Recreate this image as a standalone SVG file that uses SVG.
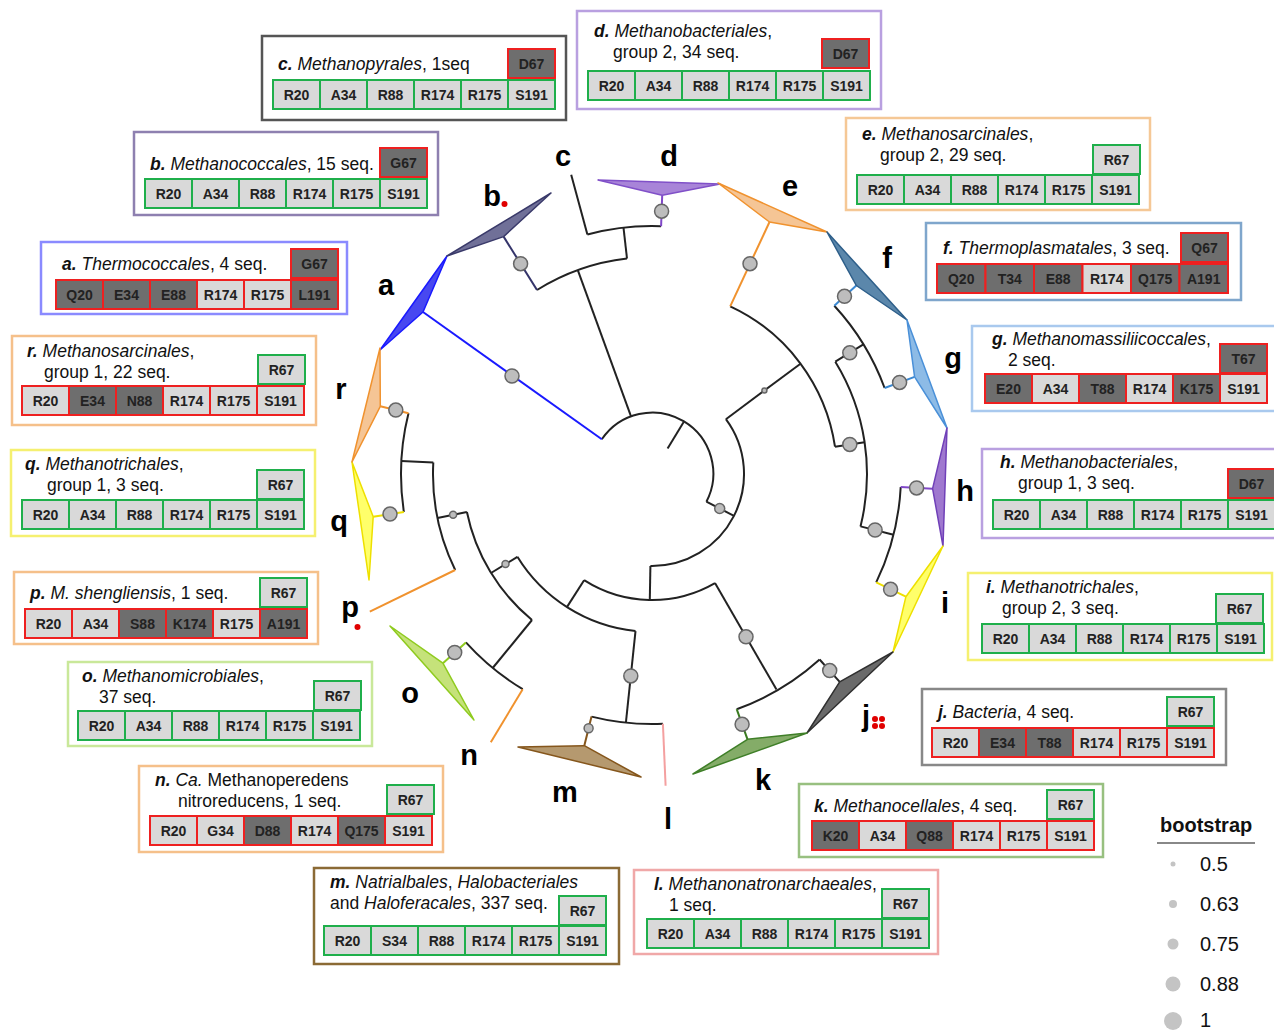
<svg xmlns="http://www.w3.org/2000/svg" width="1274" height="1033" viewBox="0 0 1274 1033">
<style>
.fr{fill:none;stroke-width:2.5}
.lg{fill:#d9d9d9;stroke:#1faf4b;stroke-width:2}
.lr{fill:#d9d9d9;stroke:#ee2020;stroke-width:2}
.dr{fill:#6e6e6e;stroke:#ee2020;stroke-width:2}
.ct{font-family:'Liberation Sans',Arial,sans-serif;font-size:14px;font-weight:bold;text-anchor:middle;fill:#222}
.tt{font-family:'Liberation Sans',Arial,sans-serif;font-size:17.5px;fill:#111}
.bi{font-weight:bold;font-style:italic}
.it{font-style:italic}
.lb{font-family:'Liberation Sans',Arial,sans-serif;font-size:29px;font-weight:bold;text-anchor:middle;fill:#000}
.br{fill:none;stroke:#222;stroke-width:2}
.cb{fill:none;stroke-width:2}
.bs{fill:#bdbdbd;stroke:#666;stroke-width:1.5}
.tri{stroke-width:1.5;stroke-linejoin:round}
.rd{fill:#e00000}
.leg{font-family:'Liberation Sans',Arial,sans-serif;font-size:20px;fill:#111}
</style>

<g id="connectors">
<path class="br" d="M601.8,439.3 A61,61 0 0 1 706.4,501.7"/>
<path class="br" d="M683.7,421.9 L667.6,448.4"/>
<path class="br" d="M631.1,416.7 L577.8,270.1"/>
<path class="br" d="M537,290 A217,217 0 0 1 627,258.5"/>
<path class="br" d="M627,258.5 L623.5,227.7"/>
<path class="br" d="M587.4,234.5 A248,248 0 0 1 661.1,226.2"/>
<path class="br" d="M587.4,234.5 L571.2,174.7"/>
<path class="br" d="M706.4,501.7 L734,515.8"/>
<path class="br" d="M725.9,419.2 A92,92 0 0 1 650.4,566"/>
<path class="br" d="M650.4,566 L649.8,600"/>
<path class="br" d="M725.9,419.2 L800.5,363.7"/>
<path class="br" d="M730.2,306.3 A185,185 0 0 1 835,446.7"/>
<path class="br" d="M835,446.7 L864.6,442.2"/>
<path class="br" d="M835.3,361.7 A215,215 0 0 1 860.5,526.4"/>
<path class="br" d="M835.3,361.7 L863.4,344.4"/>
<path class="br" d="M860.5,526.4 L893.5,534.7"/>
<path class="br" d="M834.3,305.8 A248,248 0 0 1 884.6,388"/>
<path class="br" d="M900.7,487 A249,249 0 0 1 876.2,582.4"/>
<path class="br" d="M715,583.1 A126,126 0 0 1 584.1,580.2"/>
<path class="br" d="M715,583.1 L776.5,689.6"/>
<path class="br" d="M584.1,580.2 L566.9,607.1"/>
<path class="br" d="M819.6,659.5 A250,250 0 0 1 736.7,709.2"/>
<path class="br" d="M819.6,659.5 L839.7,681.8"/>
<path class="br" d="M635.5,631.1 A158,158 0 0 1 517.4,556.8"/>
<path class="br" d="M635.5,631.1 L625.9,722.6"/>
<path class="br" d="M517.4,556.8 L491,573"/>
<path class="br" d="M662.9,723.8 A250,250 0 0 1 591.5,716.6"/>
<path class="br" d="M532,620 A189,189 0 0 1 466.9,512"/>
<path class="br" d="M532,620 L492.7,668"/>
<path class="br" d="M466.9,512 L437.5,518"/>
<path class="br" d="M522.7,689.2 A251,251 0 0 1 465.9,642.4"/>
<path class="br" d="M455.2,570 A219,219 0 0 1 433.3,462.5"/>
<path class="br" d="M433.3,462.5 L401.3,460.9"/>
<path class="br" d="M403.9,512 A251,251 0 0 1 408.5,413.3"/>
<path class="cb" stroke="#1a1aff" d="M601.8,439.3 L423,312"/>
<path class="cb" stroke="#34346a" d="M537,290 L503.6,236.6"/>
<path class="cb" stroke="#8048c8" d="M661.1,226.2 L662.2,195.2"/>
<path class="cb" stroke="#f0922e" d="M730.2,306.3 L769.5,222"/>
<path class="cb" stroke="#3a88d2" d="M834.3,305.8 L856.3,285.5"/>
<path class="cb" stroke="#3a88d2" d="M884.6,388 L914.6,376.9"/>
<path class="cb" stroke="#8048c8" d="M900.7,487 L932.6,488.7"/>
<path class="cb" stroke="#eee000" d="M876.2,582.4 L905.9,596.7"/>
<path class="cb" stroke="#3a7a20" d="M736.7,709.2 L747.5,739.3"/>
<path class="cb" stroke="#f4a0a0" d="M662.9,723.8 L665.6,785.7"/>
<path class="cb" stroke="#85561c" d="M591.5,716.6 L584.3,745.7"/>
<path class="cb" stroke="#f0922e" d="M522.7,689.2 L490.8,742.3"/>
<path class="cb" stroke="#8fcb1f" d="M465.9,642.4 L442.9,663.2"/>
<path class="cb" stroke="#f0922e" d="M455.2,570 L369.8,611.7"/>
<path class="cb" stroke="#eee000" d="M403.9,512 L373.2,516.7"/>
<path class="cb" stroke="#f0922e" d="M408.5,413.3 L380.3,406.3"/>
<g id="bootstraps">
<circle class="bs" cx="512" cy="376" r="7"/>
<circle class="bs" cx="520.6" cy="263.7" r="7"/>
<circle class="bs" cx="661.6" cy="211.2" r="7"/>
<circle class="bs" cx="750" cy="263.7" r="7"/>
<circle class="bs" cx="849.8" cy="444.4" r="7"/>
<circle class="bs" cx="849.8" cy="352.8" r="7"/>
<circle class="bs" cx="844.5" cy="296.3" r="7"/>
<circle class="bs" cx="899.6" cy="382.4" r="7"/>
<circle class="bs" cx="875.1" cy="530" r="7"/>
<circle class="bs" cx="916.6" cy="487.9" r="7"/>
<circle class="bs" cx="890.6" cy="589.3" r="7"/>
<circle class="bs" cx="746" cy="636.8" r="7"/>
<circle class="bs" cx="829.7" cy="670.6" r="7"/>
<circle class="bs" cx="742.1" cy="724.3" r="7"/>
<circle class="bs" cx="630.8" cy="675.9" r="7"/>
<circle class="bs" cx="454.7" cy="652.5" r="7"/>
<circle class="bs" cx="390" cy="514.1" r="7"/>
<circle class="bs" cx="395.8" cy="410.1" r="7"/>
<circle class="bs" cx="719.7" cy="508.5" r="5"/>
<circle class="bs" cx="764.4" cy="390.6" r="2.5"/>
<circle class="bs" cx="505.5" cy="564.1" r="3.5"/>
<circle class="bs" cx="453.1" cy="514.8" r="3.5"/>
<circle class="bs" cx="588.6" cy="728.2" r="4.5"/>
</g>
</g>

<g id="node-a">
<polygon class="tri" fill="#4848f0" stroke="#1a1aff" points="423,312 447,256 380,350"/>
<text class="lb" x="386" y="295">a</text>
<g transform="translate(56,280)">
<rect class="fr" stroke="#8a8aff" x="-15" y="-38" width="306" height="72"/>
<text class="tt" x="6" y="-10"><tspan class="bi">a.</tspan> <tspan class="it">Thermococcales</tspan>, 4 seq.</text>
<rect class="dr" x="235" y="-31" width="47" height="29"/><text class="ct" x="258.5" y="-11">G67</text>
<rect class="dr" x="0" y="0" width="47" height="29"/><text class="ct" x="23.5" y="20">Q20</text>
<rect class="dr" x="47" y="0" width="47" height="29"/><text class="ct" x="70.5" y="20">E34</text>
<rect class="dr" x="94" y="0" width="47" height="29"/><text class="ct" x="117.5" y="20">E88</text>
<rect class="lr" x="141" y="0" width="47" height="29"/><text class="ct" x="164.5" y="20">R174</text>
<rect class="lr" x="188" y="0" width="47" height="29"/><text class="ct" x="211.5" y="20">R175</text>
<rect class="dr" x="235" y="0" width="47" height="29"/><text class="ct" x="258.5" y="20">L191</text>
</g>
</g>

<g id="node-b">
<polygon class="tri" fill="#707098" stroke="#3a3a6a" points="503.6,236.6 551,193 447,256"/>
<text class="lb" x="492" y="206">b</text>
<circle class="rd" cx="504.5" cy="204" r="3"/>
<g transform="translate(145,179)">
<rect class="fr" stroke="#8e80b0" x="-11" y="-47" width="304" height="83"/>
<text class="tt" x="5" y="-9"><tspan class="bi">b.</tspan> <tspan class="it">Methanococcales</tspan>, 15 seq.</text>
<rect class="dr" x="235" y="-31" width="47" height="29"/><text class="ct" x="258.5" y="-11">G67</text>
<rect class="lg" x="0" y="0" width="47" height="29"/><text class="ct" x="23.5" y="20">R20</text>
<rect class="lg" x="47" y="0" width="47" height="29"/><text class="ct" x="70.5" y="20">A34</text>
<rect class="lg" x="94" y="0" width="47" height="29"/><text class="ct" x="117.5" y="20">R88</text>
<rect class="lg" x="141" y="0" width="47" height="29"/><text class="ct" x="164.5" y="20">R174</text>
<rect class="lg" x="188" y="0" width="47" height="29"/><text class="ct" x="211.5" y="20">R175</text>
<rect class="lg" x="235" y="0" width="47" height="29"/><text class="ct" x="258.5" y="20">S191</text>
</g>
</g>

<g id="node-c">
<text class="lb" x="563" y="166">c</text>
<g transform="translate(273,80)">
<rect class="fr" stroke="#555" x="-11" y="-44" width="304" height="84"/>
<text class="tt" x="5" y="-10"><tspan class="bi">c.</tspan> <tspan class="it">Methanopyrales</tspan>, 1seq</text>
<rect class="dr" x="235" y="-31" width="47" height="29"/><text class="ct" x="258.5" y="-11">D67</text>
<rect class="lg" x="0" y="0" width="47" height="29"/><text class="ct" x="23.5" y="20">R20</text>
<rect class="lg" x="47" y="0" width="47" height="29"/><text class="ct" x="70.5" y="20">A34</text>
<rect class="lg" x="94" y="0" width="47" height="29"/><text class="ct" x="117.5" y="20">R88</text>
<rect class="lg" x="141" y="0" width="47" height="29"/><text class="ct" x="164.5" y="20">R174</text>
<rect class="lg" x="188" y="0" width="47" height="29"/><text class="ct" x="211.5" y="20">R175</text>
<rect class="lg" x="235" y="0" width="47" height="29"/><text class="ct" x="258.5" y="20">S191</text>
</g>
</g>

<g id="node-d">
<polygon class="tri" fill="#a884d8" stroke="#8050c8" points="662.2,195.2 598,180 720,184"/>
<text class="lb" x="669" y="166">d</text>
<g transform="translate(588,71)">
<rect class="fr" stroke="#b9a0e0" x="-11" y="-60" width="304" height="98"/>
<text class="tt" x="6" y="-34"><tspan class="bi">d.</tspan> <tspan class="it">Methanobacteriales</tspan>,</text>
<text class="tt" x="25" y="-13">group 2, 34 seq.</text>
<rect class="dr" x="234" y="-32" width="47" height="29"/><text class="ct" x="257.5" y="-12">D67</text>
<rect class="lg" x="0" y="0" width="47" height="29"/><text class="ct" x="23.5" y="20">R20</text>
<rect class="lg" x="47" y="0" width="47" height="29"/><text class="ct" x="70.5" y="20">A34</text>
<rect class="lg" x="94" y="0" width="47" height="29"/><text class="ct" x="117.5" y="20">R88</text>
<rect class="lg" x="141" y="0" width="47" height="29"/><text class="ct" x="164.5" y="20">R174</text>
<rect class="lg" x="188" y="0" width="47" height="29"/><text class="ct" x="211.5" y="20">R175</text>
<rect class="lg" x="235" y="0" width="47" height="29"/><text class="ct" x="258.5" y="20">S191</text>
</g>
</g>

<g id="node-e">
<polygon class="tri" fill="#f5c595" stroke="#f0922e" points="769.5,222 718,183 827,232"/>
<text class="lb" x="790" y="196">e</text>
<g transform="translate(857,175)">
<rect class="fr" stroke="#f5c896" x="-11" y="-57" width="304" height="92"/>
<text class="tt" x="5" y="-35"><tspan class="bi">e.</tspan> <tspan class="it">Methanosarcinales</tspan>,</text>
<text class="tt" x="23" y="-14">group 2, 29 seq.</text>
<rect class="lg" x="236" y="-30" width="47" height="29"/><text class="ct" x="259.5" y="-10">R67</text>
<rect class="lg" x="0" y="0" width="47" height="29"/><text class="ct" x="23.5" y="20">R20</text>
<rect class="lg" x="47" y="0" width="47" height="29"/><text class="ct" x="70.5" y="20">A34</text>
<rect class="lg" x="94" y="0" width="47" height="29"/><text class="ct" x="117.5" y="20">R88</text>
<rect class="lg" x="141" y="0" width="47" height="29"/><text class="ct" x="164.5" y="20">R174</text>
<rect class="lg" x="188" y="0" width="47" height="29"/><text class="ct" x="211.5" y="20">R175</text>
<rect class="lg" x="235" y="0" width="47" height="29"/><text class="ct" x="258.5" y="20">S191</text>
</g>
</g>

<g id="node-f">
<polygon class="tri" fill="#5b87ab" stroke="#2e5f8a" points="856.3,285.5 827,232 907,320"/>
<text class="lb" x="887" y="268">f</text>
<g transform="translate(937,264)">
<rect class="fr" stroke="#7fa6cc" x="-11" y="-41" width="315" height="77"/>
<text class="tt" x="6" y="-10"><tspan class="bi">f.</tspan> <tspan class="it">Thermoplasmatales</tspan>, 3 seq.</text>
<rect class="dr" x="244" y="-31" width="47" height="29"/><text class="ct" x="267.5" y="-11">Q67</text>
<rect class="dr" x="0" y="0" width="48.5" height="29"/><text class="ct" x="24.2" y="20">Q20</text>
<rect class="dr" x="48.5" y="0" width="48.5" height="29"/><text class="ct" x="72.7" y="20">T34</text>
<rect class="dr" x="97" y="0" width="48.5" height="29"/><text class="ct" x="121.2" y="20">E88</text>
<rect class="lr" x="145.5" y="0" width="48.5" height="29"/><text class="ct" x="169.7" y="20">R174</text>
<rect class="dr" x="194" y="0" width="48.5" height="29"/><text class="ct" x="218.2" y="20">Q175</text>
<rect class="dr" x="242.5" y="0" width="48.5" height="29"/><text class="ct" x="266.7" y="20">A191</text>
</g>
</g>

<g id="node-g">
<polygon class="tri" fill="#8dbbe6" stroke="#4a90d8" points="914.6,376.9 907,320 947,428"/>
<text class="lb" x="953" y="368">g</text>
<g transform="translate(985,374)">
<rect class="fr" stroke="#a9c9ee" x="-13" y="-48" width="304" height="85"/>
<text class="tt" x="7" y="-29"><tspan class="bi">g.</tspan> <tspan class="it">Methanomassiliicoccales</tspan>,</text>
<text class="tt" x="23" y="-8">2 seq.</text>
<rect class="dr" x="235" y="-30" width="47" height="29"/><text class="ct" x="258.5" y="-10">T67</text>
<rect class="dr" x="0" y="0" width="47" height="29"/><text class="ct" x="23.5" y="20">E20</text>
<rect class="lr" x="47" y="0" width="47" height="29"/><text class="ct" x="70.5" y="20">A34</text>
<rect class="dr" x="94" y="0" width="47" height="29"/><text class="ct" x="117.5" y="20">T88</text>
<rect class="lr" x="141" y="0" width="47" height="29"/><text class="ct" x="164.5" y="20">R174</text>
<rect class="dr" x="188" y="0" width="47" height="29"/><text class="ct" x="211.5" y="20">K175</text>
<rect class="lr" x="235" y="0" width="47" height="29"/><text class="ct" x="258.5" y="20">S191</text>
</g>
</g>

<g id="node-h">
<polygon class="tri" fill="#9f78cf" stroke="#7040b8" points="932.6,488.7 947,428 943,546"/>
<text class="lb" x="965" y="501">h</text>
<g transform="translate(993,500)">
<rect class="fr" stroke="#b9a0e0" x="-11" y="-51" width="304" height="89"/>
<text class="tt" x="7" y="-32"><tspan class="bi">h.</tspan> <tspan class="it">Methanobacteriales</tspan>,</text>
<text class="tt" x="25" y="-11">group 1, 3 seq.</text>
<rect class="dr" x="235" y="-31" width="47" height="29"/><text class="ct" x="258.5" y="-11">D67</text>
<rect class="lg" x="0" y="0" width="47" height="29"/><text class="ct" x="23.5" y="20">R20</text>
<rect class="lg" x="47" y="0" width="47" height="29"/><text class="ct" x="70.5" y="20">A34</text>
<rect class="lg" x="94" y="0" width="47" height="29"/><text class="ct" x="117.5" y="20">R88</text>
<rect class="lg" x="141" y="0" width="47" height="29"/><text class="ct" x="164.5" y="20">R174</text>
<rect class="lg" x="188" y="0" width="47" height="29"/><text class="ct" x="211.5" y="20">R175</text>
<rect class="lg" x="235" y="0" width="47" height="29"/><text class="ct" x="258.5" y="20">S191</text>
</g>
</g>

<g id="node-i">
<polygon class="tri" fill="#ffff6a" stroke="#eee000" points="905.9,596.7 943,546 893,652"/>
<text class="lb" x="945" y="613">i</text>
<g transform="translate(982,624)">
<rect class="fr" stroke="#f5f070" x="-14" y="-51" width="304" height="87"/>
<text class="tt" x="4" y="-31"><tspan class="bi">i.</tspan> <tspan class="it">Methanotrichales</tspan>,</text>
<text class="tt" x="20" y="-10">group 2, 3 seq.</text>
<rect class="lg" x="234" y="-30" width="47" height="29"/><text class="ct" x="257.5" y="-10">R67</text>
<rect class="lg" x="0" y="0" width="47" height="29"/><text class="ct" x="23.5" y="20">R20</text>
<rect class="lg" x="47" y="0" width="47" height="29"/><text class="ct" x="70.5" y="20">A34</text>
<rect class="lg" x="94" y="0" width="47" height="29"/><text class="ct" x="117.5" y="20">R88</text>
<rect class="lg" x="141" y="0" width="47" height="29"/><text class="ct" x="164.5" y="20">R174</text>
<rect class="lg" x="188" y="0" width="47" height="29"/><text class="ct" x="211.5" y="20">R175</text>
<rect class="lg" x="235" y="0" width="47" height="29"/><text class="ct" x="258.5" y="20">S191</text>
</g>
</g>

<g id="node-j">
<polygon class="tri" fill="#6a6a6a" stroke="#303030" points="839.7,681.8 893,652 807,733"/>
<text class="lb" x="866" y="726">j</text>
<circle class="rd" cx="875" cy="719" r="3"/><circle class="rd" cx="882" cy="719" r="3"/>
<circle class="rd" cx="875" cy="726" r="3"/><circle class="rd" cx="882" cy="726" r="3"/>
<g transform="translate(932,728)">
<rect class="fr" stroke="#888" x="-10" y="-39" width="304" height="76"/>
<text class="tt" x="6" y="-10"><tspan class="bi">j.</tspan> <tspan class="it">Bacteria</tspan>, 4 seq.</text>
<rect class="lg" x="235" y="-31" width="47" height="29"/><text class="ct" x="258.5" y="-11">R67</text>
<rect class="lr" x="0" y="0" width="47" height="29"/><text class="ct" x="23.5" y="20">R20</text>
<rect class="dr" x="47" y="0" width="47" height="29"/><text class="ct" x="70.5" y="20">E34</text>
<rect class="dr" x="94" y="0" width="47" height="29"/><text class="ct" x="117.5" y="20">T88</text>
<rect class="lr" x="141" y="0" width="47" height="29"/><text class="ct" x="164.5" y="20">R174</text>
<rect class="lr" x="188" y="0" width="47" height="29"/><text class="ct" x="211.5" y="20">R175</text>
<rect class="lr" x="235" y="0" width="47" height="29"/><text class="ct" x="258.5" y="20">S191</text>
</g>
</g>

<g id="node-k">
<polygon class="tri" fill="#84ac68" stroke="#3f7f28" points="747.5,739.3 807,733 693,774"/>
<text class="lb" x="763" y="790">k</text>
<g transform="translate(812,821)">
<rect class="fr" stroke="#98c080" x="-13" y="-37" width="304" height="73"/>
<text class="tt" x="2" y="-9"><tspan class="bi">k.</tspan> <tspan class="it">Methanocellales</tspan>, 4 seq.</text>
<rect class="lg" x="235" y="-31" width="47" height="29"/><text class="ct" x="258.5" y="-11">R67</text>
<rect class="dr" x="0" y="0" width="47" height="29"/><text class="ct" x="23.5" y="20">K20</text>
<rect class="lr" x="47" y="0" width="47" height="29"/><text class="ct" x="70.5" y="20">A34</text>
<rect class="dr" x="94" y="0" width="47" height="29"/><text class="ct" x="117.5" y="20">Q88</text>
<rect class="lr" x="141" y="0" width="47" height="29"/><text class="ct" x="164.5" y="20">R174</text>
<rect class="lr" x="188" y="0" width="47" height="29"/><text class="ct" x="211.5" y="20">R175</text>
<rect class="lr" x="235" y="0" width="47" height="29"/><text class="ct" x="258.5" y="20">S191</text>
</g>
</g>

<g id="node-l">
<text class="lb" x="668" y="829">l</text>
<g transform="translate(647,919)">
<rect class="fr" stroke="#f0a8a8" x="-13" y="-49" width="304" height="84"/>
<text class="tt" x="7" y="-29"><tspan class="bi">l.</tspan> <tspan class="it">Methanonatronarchaeales</tspan>,</text>
<text class="tt" x="22" y="-8">1 seq.</text>
<rect class="lg" x="235" y="-30" width="47" height="29"/><text class="ct" x="258.5" y="-10">R67</text>
<rect class="lg" x="0" y="0" width="47" height="29"/><text class="ct" x="23.5" y="20">R20</text>
<rect class="lg" x="47" y="0" width="47" height="29"/><text class="ct" x="70.5" y="20">A34</text>
<rect class="lg" x="94" y="0" width="47" height="29"/><text class="ct" x="117.5" y="20">R88</text>
<rect class="lg" x="141" y="0" width="47" height="29"/><text class="ct" x="164.5" y="20">R174</text>
<rect class="lg" x="188" y="0" width="47" height="29"/><text class="ct" x="211.5" y="20">R175</text>
<rect class="lg" x="235" y="0" width="47" height="29"/><text class="ct" x="258.5" y="20">S191</text>
</g>
</g>

<g id="node-m">
<polygon class="tri" fill="#b5996f" stroke="#85561c" points="584.3,745.7 518,747 641,777"/>
<text class="lb" x="565" y="802">m</text>
<g transform="translate(324,926)">
<rect class="fr" stroke="#8b6a35" x="-10" y="-58" width="305" height="96"/>
<text class="tt" x="6" y="-38"><tspan class="bi">m.</tspan> <tspan class="it">Natrialbales</tspan>, <tspan class="it">Halobacteriales</tspan></text>
<text class="tt" x="6" y="-17">and <tspan class="it">Haloferacales</tspan>, 337 seq.</text>
<rect class="lg" x="235" y="-30" width="47" height="29"/><text class="ct" x="258.5" y="-10">R67</text>
<rect class="lg" x="0" y="0" width="47" height="29"/><text class="ct" x="23.5" y="20">R20</text>
<rect class="lg" x="47" y="0" width="47" height="29"/><text class="ct" x="70.5" y="20">S34</text>
<rect class="lg" x="94" y="0" width="47" height="29"/><text class="ct" x="117.5" y="20">R88</text>
<rect class="lg" x="141" y="0" width="47" height="29"/><text class="ct" x="164.5" y="20">R174</text>
<rect class="lg" x="188" y="0" width="47" height="29"/><text class="ct" x="211.5" y="20">R175</text>
<rect class="lg" x="235" y="0" width="47" height="29"/><text class="ct" x="258.5" y="20">S191</text>
</g>
</g>

<g id="node-n">
<text class="lb" x="469" y="765">n</text>
<g transform="translate(150,816)">
<rect class="fr" stroke="#f5c08a" x="-11" y="-50" width="304" height="86"/>
<text class="tt" x="5" y="-30"><tspan class="bi">n.</tspan> <tspan class="it">Ca.</tspan> Methanoperedens</text>
<text class="tt" x="28" y="-9">nitroreducens, 1 seq.</text>
<rect class="lg" x="237" y="-31" width="47" height="29"/><text class="ct" x="260.5" y="-11">R67</text>
<rect class="lr" x="0" y="0" width="47" height="29"/><text class="ct" x="23.5" y="20">R20</text>
<rect class="lr" x="47" y="0" width="47" height="29"/><text class="ct" x="70.5" y="20">G34</text>
<rect class="dr" x="94" y="0" width="47" height="29"/><text class="ct" x="117.5" y="20">D88</text>
<rect class="lr" x="141" y="0" width="47" height="29"/><text class="ct" x="164.5" y="20">R174</text>
<rect class="dr" x="188" y="0" width="47" height="29"/><text class="ct" x="211.5" y="20">Q175</text>
<rect class="lr" x="235" y="0" width="47" height="29"/><text class="ct" x="258.5" y="20">S191</text>
</g>
</g>

<g id="node-o">
<polygon class="tri" fill="#c5e27a" stroke="#8fcb1f" points="442.9,663.2 390,626 474,720"/>
<text class="lb" x="410" y="703">o</text>
<g transform="translate(78,711)">
<rect class="fr" stroke="#c9e89a" x="-10" y="-49" width="304" height="84"/>
<text class="tt" x="4" y="-29"><tspan class="bi">o.</tspan> <tspan class="it">Methanomicrobiales</tspan>,</text>
<text class="tt" x="21" y="-8">37 seq.</text>
<rect class="lg" x="236" y="-30" width="47" height="29"/><text class="ct" x="259.5" y="-10">R67</text>
<rect class="lg" x="0" y="0" width="47" height="29"/><text class="ct" x="23.5" y="20">R20</text>
<rect class="lg" x="47" y="0" width="47" height="29"/><text class="ct" x="70.5" y="20">A34</text>
<rect class="lg" x="94" y="0" width="47" height="29"/><text class="ct" x="117.5" y="20">R88</text>
<rect class="lg" x="141" y="0" width="47" height="29"/><text class="ct" x="164.5" y="20">R174</text>
<rect class="lg" x="188" y="0" width="47" height="29"/><text class="ct" x="211.5" y="20">R175</text>
<rect class="lg" x="235" y="0" width="47" height="29"/><text class="ct" x="258.5" y="20">S191</text>
</g>
</g>

<g id="node-p">
<text class="lb" x="350" y="617">p</text>
<circle class="rd" cx="357.5" cy="627" r="3"/>
<g transform="translate(25,609)">
<rect class="fr" stroke="#f5c08a" x="-11" y="-37" width="304" height="72"/>
<text class="tt" x="5" y="-10"><tspan class="bi">p.</tspan> <tspan class="it">M. shengliensis</tspan>, 1 seq.</text>
<rect class="lg" x="235" y="-31" width="47" height="29"/><text class="ct" x="258.5" y="-11">R67</text>
<rect class="lr" x="0" y="0" width="47" height="29"/><text class="ct" x="23.5" y="20">R20</text>
<rect class="lr" x="47" y="0" width="47" height="29"/><text class="ct" x="70.5" y="20">A34</text>
<rect class="dr" x="94" y="0" width="47" height="29"/><text class="ct" x="117.5" y="20">S88</text>
<rect class="dr" x="141" y="0" width="47" height="29"/><text class="ct" x="164.5" y="20">K174</text>
<rect class="lr" x="188" y="0" width="47" height="29"/><text class="ct" x="211.5" y="20">R175</text>
<rect class="dr" x="235" y="0" width="47" height="29"/><text class="ct" x="258.5" y="20">A191</text>
</g>
</g>

<g id="node-q">
<polygon class="tri" fill="#ffff6a" stroke="#eee000" points="373.2,516.7 352,462 369,580"/>
<text class="lb" x="339" y="531">q</text>
<g transform="translate(22,500)">
<rect class="fr" stroke="#f5f070" x="-11" y="-50" width="304" height="86"/>
<text class="tt" x="3" y="-30"><tspan class="bi">q.</tspan> <tspan class="it">Methanotrichales</tspan>,</text>
<text class="tt" x="25" y="-9">group 1, 3 seq.</text>
<rect class="lg" x="235" y="-30" width="47" height="29"/><text class="ct" x="258.5" y="-10">R67</text>
<rect class="lg" x="0" y="0" width="47" height="29"/><text class="ct" x="23.5" y="20">R20</text>
<rect class="lg" x="47" y="0" width="47" height="29"/><text class="ct" x="70.5" y="20">A34</text>
<rect class="lg" x="94" y="0" width="47" height="29"/><text class="ct" x="117.5" y="20">R88</text>
<rect class="lg" x="141" y="0" width="47" height="29"/><text class="ct" x="164.5" y="20">R174</text>
<rect class="lg" x="188" y="0" width="47" height="29"/><text class="ct" x="211.5" y="20">R175</text>
<rect class="lg" x="235" y="0" width="47" height="29"/><text class="ct" x="258.5" y="20">S191</text>
</g>
</g>

<g id="node-r">
<polygon class="tri" fill="#f5c595" stroke="#f0922e" points="380.3,406.3 380,348 352,462"/>
<text class="lb" x="341" y="399">r</text>
<g transform="translate(22,386)">
<rect class="fr" stroke="#f5c08a" x="-10" y="-50" width="304" height="89"/>
<text class="tt" x="5" y="-29"><tspan class="bi">r.</tspan> <tspan class="it">Methanosarcinales</tspan>,</text>
<text class="tt" x="22" y="-8">group 1, 22 seq.</text>
<rect class="lg" x="236" y="-31" width="47" height="29"/><text class="ct" x="259.5" y="-11">R67</text>
<rect class="lr" x="0" y="0" width="47" height="29"/><text class="ct" x="23.5" y="20">R20</text>
<rect class="dr" x="47" y="0" width="47" height="29"/><text class="ct" x="70.5" y="20">E34</text>
<rect class="dr" x="94" y="0" width="47" height="29"/><text class="ct" x="117.5" y="20">N88</text>
<rect class="lr" x="141" y="0" width="47" height="29"/><text class="ct" x="164.5" y="20">R174</text>
<rect class="lr" x="188" y="0" width="47" height="29"/><text class="ct" x="211.5" y="20">R175</text>
<rect class="lr" x="235" y="0" width="47" height="29"/><text class="ct" x="258.5" y="20">S191</text>
</g>
</g>

<g id="legend">
<text x="1160" y="832" font-family="'Liberation Sans',Arial,sans-serif" font-size="20" font-weight="bold" fill="#111">bootstrap</text>
<line x1="1157" y1="843" x2="1255" y2="843" stroke="#888" stroke-width="2"/>
<circle cx="1173" cy="864" r="2.5" fill="#c4c4c4"/><text class="leg" x="1200" y="871">0.5</text>
<circle cx="1173" cy="904" r="4" fill="#c4c4c4"/><text class="leg" x="1200" y="911">0.63</text>
<circle cx="1173" cy="944" r="5.5" fill="#c4c4c4"/><text class="leg" x="1200" y="951">0.75</text>
<circle cx="1173" cy="984" r="7.5" fill="#c4c4c4"/><text class="leg" x="1200" y="991">0.88</text>
<circle cx="1173" cy="1021" r="9" fill="#c4c4c4"/><text class="leg" x="1200" y="1027">1</text>
</g>
</svg>
